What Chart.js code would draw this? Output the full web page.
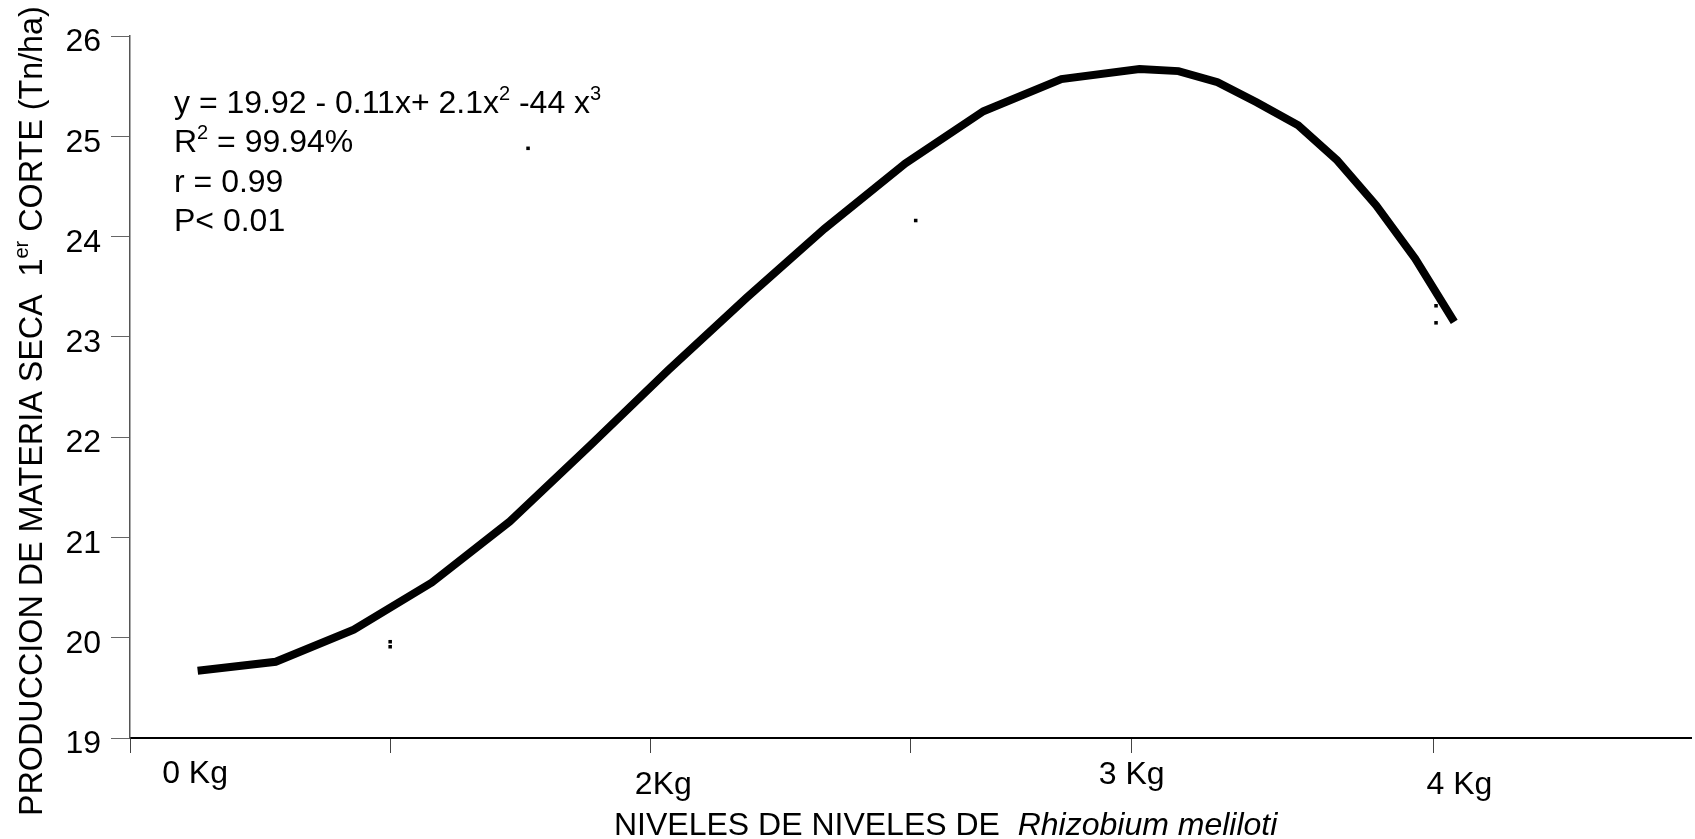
<!DOCTYPE html>
<html>
<head>
<meta charset="utf-8">
<script src="https://cdn.jsdelivr.net/npm/chart.js@4.4.0/dist/chart.umd.min.js"></script>
<style>
body { margin: 0; background: #fff; }
</style>
</head>
<body>
<canvas id="myChart" width="1695" height="839"></canvas>
<script>
// Fitted curve (x in axis units, one unit per tick step)
var curveX = [0.26, 0.56, 0.86, 1.16, 1.46, 1.77, 2.07, 2.37, 2.67, 2.98, 3.28, 3.58, 3.88, 4.03, 4.18, 4.33, 4.49, 4.64, 4.79, 4.94, 5.09];
var curveY = [19.67, 19.76, 20.08, 20.55, 21.16, 21.92, 22.67, 23.39, 24.08, 24.73, 25.25, 25.57, 25.67, 25.65, 25.54, 25.34, 25.11, 24.76, 24.31, 23.78, 23.15];

// Observed values (tiny marks)
var obsX = [1.0, 1.0, 1.53, 3.02, 5.02, 5.02];
var obsY = [19.96, 19.91, 24.88, 24.16, 23.31, 23.14];

// x axis tick marks and labels
var xTicks = [0, 1, 2, 3, 3.85, 5.01];
var xLabels = ['0 Kg', '2Kg', '3 Kg', '4 Kg'];
var xLabelAt = [0.25, 2.05, 3.85, 5.11];

var FONT = '"Liberation Sans", Arial, sans-serif';

var equation = [
    [{ t: 'y = 19.92 - 0.11x+ 2.1x' }, { t: '2', sup: true }, { t: ' -44 x' }, { t: '3', sup: true }],
    [{ t: 'R' }, { t: '2', sup: true }, { t: ' = 99.94%' }],
    [{ t: 'r = 0.99' }],
    [{ t: 'P< 0.01' }]
];
var yTitle = [{ t: 'PRODUCCION DE MATERIA SECA  1' }, { t: 'er', sup: true }, { t: ' CORTE (Tn/ha)' }];
var xTitle = [{ t: 'NIVELES DE NIVELES DE  ' }, { t: 'Rhizobium meliloti', italic: true }];

function drawParts(ctx, parts, x, y, size) {
    parts.forEach(function (p) {
        var s = p.sup ? Math.round(size * 0.62) : size;
        ctx.font = (p.italic ? 'italic ' : '') + s + 'px ' + FONT;
        ctx.fillText(p.t, x, p.sup ? y - size * 0.42 : y);
        x += ctx.measureText(p.t).width;
    });
    return x;
}

// Draws the texts that Chart.js cannot (superscripts, mixed italic, offset labels)
var textPlugin = {
    id: 'texts',
    afterDraw: function (chart) {
        var ctx = chart.ctx;
        var area = chart.chartArea;
        var xs = chart.scales.x;
        ctx.save();
        ctx.fillStyle = '#000';
        ctx.textAlign = 'left';
        ctx.textBaseline = 'alphabetic';

        // equation block
        var lineY = [113, 152, 192, 231];
        equation.forEach(function (parts, i) {
            drawParts(ctx, parts, 174, lineY[i], 32);
        });

        // x tick labels
        var drop = [45, 56, 46, 56];
        ctx.font = '32px ' + FONT;
        ctx.textAlign = 'center';
        xLabels.forEach(function (lab, i) {
            ctx.fillText(lab, xs.getPixelForValue(xLabelAt[i]), area.bottom + drop[i]);
        });
        ctx.textAlign = 'left';

        // x axis title
        drawParts(ctx, xTitle, 614, 835, 32);

        // y axis title
        ctx.save();
        ctx.translate(42, 816);
        ctx.rotate(-Math.PI / 2);
        drawParts(ctx, yTitle, 0, 0, 32.3);
        ctx.restore();

        ctx.restore();
    }
};

var ctx = document.getElementById('myChart');
var myChart = new Chart(ctx, {
    type: 'line',
    data: {
        datasets: [
            {
                label: 'Curva ajustada',
                data: curveX.map(function (x, i) { return { x: x, y: curveY[i] }; }),
                borderColor: '#000',
                borderWidth: 8,
                borderJoinStyle: 'miter',
                pointRadius: 0,
                tension: 0,
                fill: false
            },
            {
                label: 'Observado',
                data: obsX.map(function (x, i) { return { x: x, y: obsY[i] }; }),
                showLine: false,
                pointStyle: 'rect',
                pointRadius: 2.5,
                pointBorderWidth: 0,
                pointBackgroundColor: '#000'
            }
        ]
    },
    options: {
        responsive: false,
        animation: false,
        layout: { padding: { top: 36, right: 0, left: 0, bottom: 0 } },
        plugins: {
            legend: { display: false },
            tooltip: { enabled: false }
        },
        scales: {
            x: {
                type: 'linear',
                min: 0,
                max: 6,
                afterBuildTicks: function (scale) {
                    scale.ticks = xTicks.map(function (v) { return { value: v }; });
                },
                afterFit: function (scale) { scale.height = 101; },
                ticks: {
                    callback: function () { return ''; }
                },
                grid: {
                    drawOnChartArea: false,
                    drawTicks: true,
                    tickLength: 15,
                    tickWidth: 1,
                    tickColor: '#444'
                },
                border: { display: true, color: '#000', width: 2 }
            },
            y: {
                min: 19,
                max: 26,
                afterFit: function (scale) { scale.width = 130; },
                ticks: {
                    stepSize: 1,
                    padding: 10,
                    color: '#000',
                    font: { family: FONT, size: 32, lineHeight: 0.4 },
                    callback: function (v) { return ['', String(v)]; }
                },
                grid: {
                    drawOnChartArea: false,
                    drawTicks: true,
                    tickLength: 19,
                    tickWidth: 1,
                    tickColor: '#666'
                },
                border: { display: true, color: '#555', width: 1.5 }
            }
        }
    },
    plugins: [textPlugin]
});
</script>
</body>
</html>
